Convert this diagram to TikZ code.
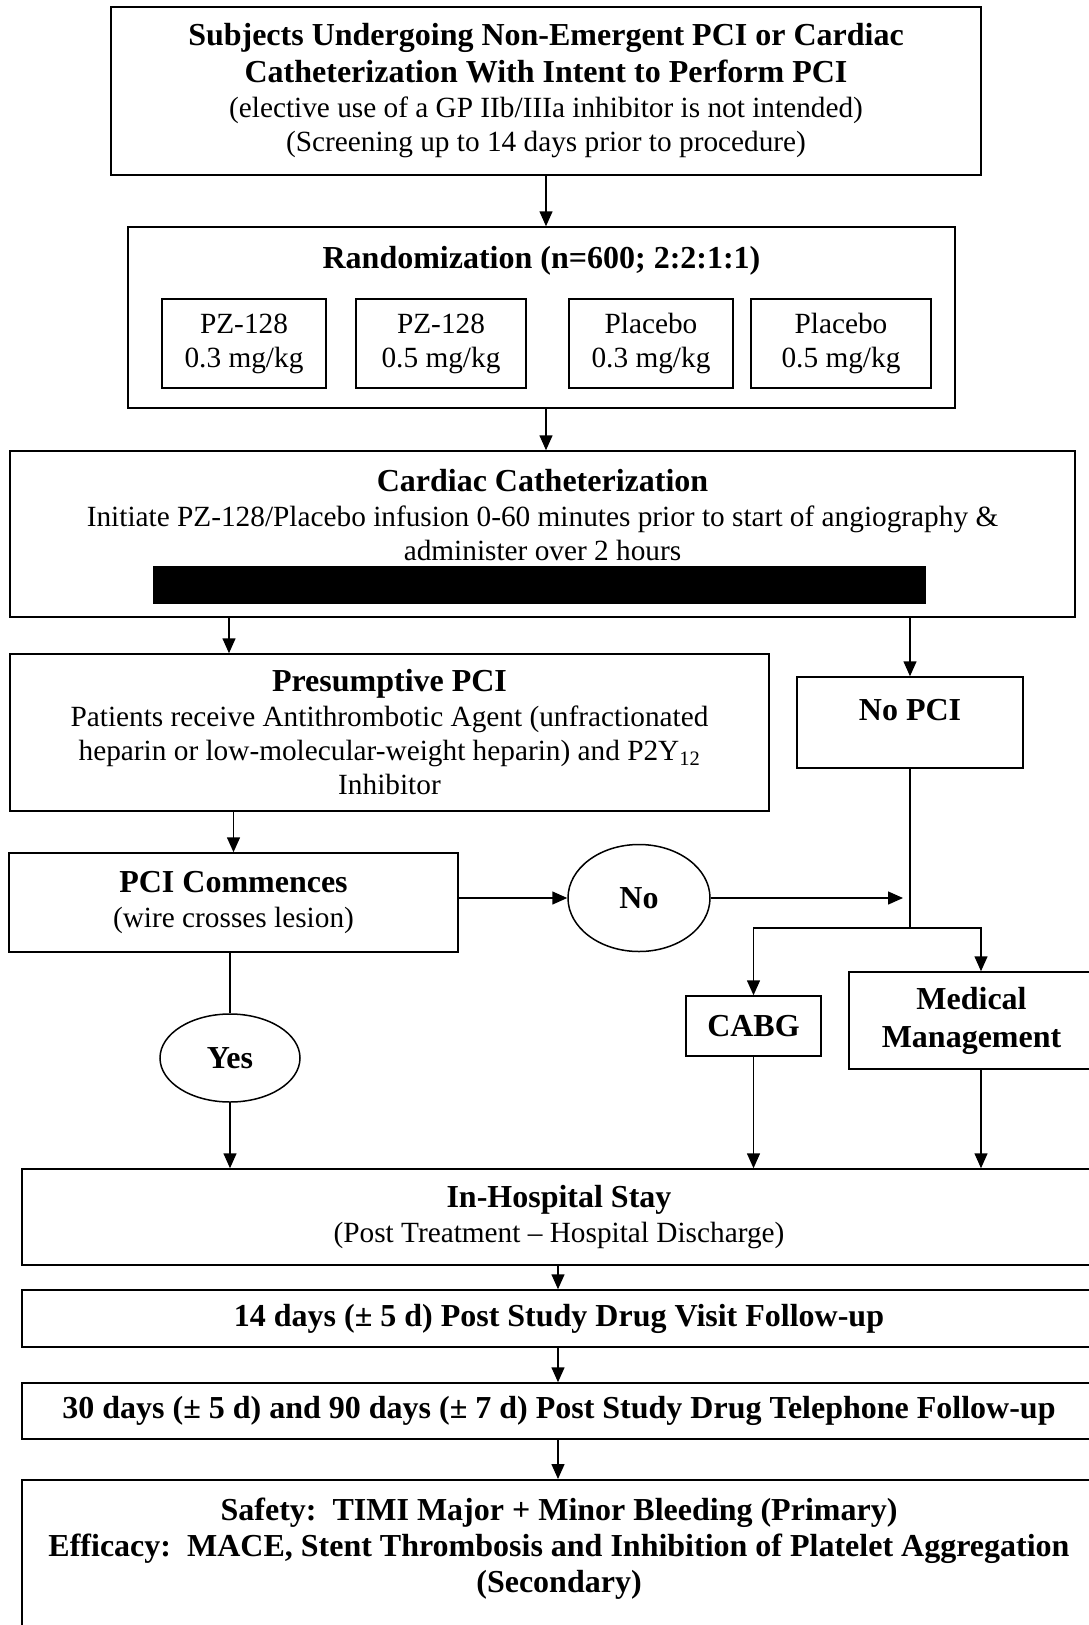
\documentclass[tikz,border=0pt]{standalone}
\usepackage{fontspec}
\setmainfont{Liberation Serif}
\usetikzlibrary{arrows.meta,shapes.geometric,calc}
\newcommand{\mybold}{\fontsize{32}{36}\selectfont\bfseries}
\newcommand{\myreg}{\fontsize{29.3}{34}\selectfont}
\begin{document}
\begin{tikzpicture}[x=1pt,y=-1pt,
  box/.style={draw, line width=1.5pt, rectangle, inner sep=0pt, align=center, font=\myreg},
  oval/.style={draw, line width=1.5pt, ellipse, inner sep=0pt, font=\mybold},
  arr/.style={line width=1.5pt, -{Triangle[length=15pt,width=13pt]}},
  ln/.style={line width=1.5pt},
]
\useasboundingbox (0,0) rectangle (1089,1625);
\clip (0,0) rectangle (1089,1625);

\node[box, minimum width=870pt, minimum height=168pt] (top) at (546,91)
  {{\mybold Subjects Undergoing Non-Emergent PCI or Cardiac}\\[3pt]
   {\mybold Catheterization With Intent to Perform PCI}\\[1pt]
   (elective use of a GP IIb/IIIa inhibitor is not intended)\\
   (Screening up to 14 days prior to procedure)};

\node[box, minimum width=827pt, minimum height=181pt] (rand) at (541.5,317.5) {};
\node[font=\mybold, inner sep=0pt] (randt) at (541.5,261) {Randomization (n=600; 2:2:1:1)};
\node[box, minimum width=164pt, minimum height=89pt] (g1) at (244,343.5) {PZ-128\\0.3 mg/kg};
\node[box, minimum width=170pt, minimum height=89pt] (g2) at (441,343.5) {PZ-128\\0.5 mg/kg};
\node[box, minimum width=164pt, minimum height=89pt] (g3) at (651,343.5) {Placebo\\0.3 mg/kg};
\node[box, minimum width=180pt, minimum height=89pt] (g4) at (841,343.5) {Placebo\\0.5 mg/kg};

\node[box, minimum width=1065pt, minimum height=166pt, text depth=38pt] (cath) at (542.5,534)
  {{\mybold Cardiac Catheterization}\\[1pt]
   Initiate PZ-128/Placebo infusion 0-60 minutes prior to start of angiography \&\\
   administer over 2 hours};
\node[fill=black, minimum width=773pt, minimum height=38pt, inner sep=0pt] (bar) at (539.5,585) {};

\node[box, minimum width=759pt, minimum height=157pt] (pres) at (389.5,732.5)
  {{\mybold Presumptive PCI}\\[1pt]
   Patients receive Antithrombotic Agent (unfractionated\\
   heparin or low-molecular-weight heparin) and P2Y\textsubscript{12}\\
   Inhibitor};

\node[box, font=\mybold, minimum width=226pt, minimum height=91pt, text depth=25pt] (nopci) at (910,722.5) {No PCI};

\node[box, minimum width=449pt, minimum height=99pt] (pcic) at (233.5,902.5)
  {{\mybold PCI Commences}\\[1pt](wire crosses lesion)};

\node[oval, minimum width=142pt, minimum height=107pt] (no) at (639,898) {No};
\node[oval, minimum width=140pt, minimum height=88pt] (yes) at (230,1058) {Yes};

\node[box, font=\mybold, minimum width=135pt, minimum height=60pt] (cabg) at (753.5,1026) {CABG};
\node[box, font=\mybold, minimum width=245pt, minimum height=97pt] (med) at (971.5,1020.5) {Medical\\[2pt]Management};

\node[box, minimum width=1074pt, minimum height=96pt] (inh) at (559,1217)
  {{\mybold In-Hospital Stay}\\[1pt](Post Treatment – Hospital Discharge)};
\node[box, font=\mybold, minimum width=1074pt, minimum height=57pt] (d14) at (559,1318.5)
  {14 days (± 5 d) Post Study Drug Visit Follow-up};
\node[box, font=\mybold, minimum width=1074pt, minimum height=56pt] (d30) at (559,1411)
  {30 days (± 5 d) and 90 days (± 7 d) Post Study Drug Telephone Follow-up};
\node[box, line width=1.8pt, minimum width=1074pt, minimum height=230pt, anchor=north] (fin) at (559,1479) {};
\node[font=\mybold, align=center, inner sep=0pt] (fint) at (559,1549)
  {Safety:\ \ TIMI Major + Minor Bleeding (Primary)\\
   Efficacy:\ \ MACE, Stent Thrombosis and Inhibition of Platelet Aggregation\\
   (Secondary)};

% connectors
\coordinate (xl) at (229,0);
\coordinate (xm) at (981,0);
\coordinate (xc) at (558,0);
\draw[arr] (top.south) -- (top.south |- rand.north);
\draw[arr] (rand.south -| top.south) -- (cath.north -| top.south);
\draw[arr] (cath.south -| xl) -- (pres.north -| xl);
\draw[arr] (cath.south -| nopci) -- (nopci.north);
\draw[arr] (pres.south -| pcic) -- (pcic.north);
\draw[arr] (pcic.east |- no) -- (no.west);
\coordinate (jn) at ($(nopci.south |- no)+(-7,0)$);
\draw[arr] (no.east) -- (jn);
\coordinate (br) at ($(nopci.south)+(0,159)$);
\draw[ln] (nopci.south) -- (br);
\draw[arr] (br) -| (cabg.north);
\draw[arr] (br) -| (med.north -| xm);
\draw[ln] (pcic.south -| yes) -- (yes.north);
\draw[arr] (yes.south) -- (inh.north -| yes);
\draw[arr] (cabg.south) -- (inh.north -| cabg);
\draw[arr] (med.south -| xm) -- (inh.north -| xm);
\draw[arr] (inh.south -| xc) -- (d14.north -| xc);
\draw[arr] (d14.south -| xc) -- (d30.north -| xc);
\draw[arr] (d30.south -| xc) -- (fin.north -| xc);
\end{tikzpicture}
\end{document}
